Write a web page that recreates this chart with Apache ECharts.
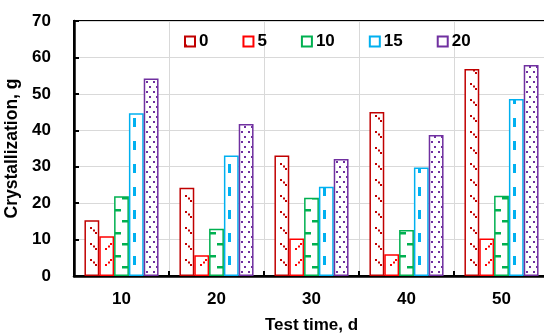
<!DOCTYPE html>
<html><head><meta charset="utf-8">
<script src="https://cdn.jsdelivr.net/npm/echarts@6/dist/echarts.min.js"></script>
<style>html,body{margin:0;padding:0;background:#fff}#c{width:544px;height:334px}</style>
</head><body><div id="c"></div>
<script>
var categories = ['10', '20', '30', '40', '50'];
var seriesNames = ['0', '5', '10', '15', '20'];
var s0 = [15.3, 24.2, 33.1, 45.0, 56.8];
var s5 = [10.9, 5.7, 10.3, 6.0, 10.3];
var s10 = [21.9, 13.0, 21.5, 12.6, 22.0];
var s15 = [44.7, 33.1, 24.5, 29.8, 48.6];
var s20 = [54.2, 41.7, 32.1, 38.7, 57.9];
var yTicks = [0, 10, 20, 30, 40, 50, 60, 70];

// layout constants (style only)
var GL = 74, GR = -5, GT = 21, GB = 58, W = 544;
var CAT = (W - GL - GR) / categories.length;
var GAP = 0.22;
var BW = CAT * (1 - GAP) / seriesNames.length;

function tile(seriesIdx, h, draw) {
  var w = Math.round(CAT);
  var c = document.createElement('canvas');
  c.width = w; c.height = h;
  var g = c.getContext('2d');
  g.fillStyle = '#fff'; g.fillRect(0, 0, w, h);
  var left = (GL + CAT * GAP / 2 + seriesIdx * BW) % w;
  draw(g, function (x, y, ww, hh) {
    var xx = Math.round(left + x) % w;
    g.fillRect(xx, y, ww, hh);
  });
  return { image: c, repeat: 'repeat' };
}
var colors = ['#c00000', '#ff0000', '#00b050', '#00b0f0', '#7030a0'];
var patterns = [
  tile(0, 16, function (g, r) { g.fillStyle = colors[0];
    r(6, 3, 2, 2); r(8.5, 5.5, 2, 2); r(11, 8, 2, 2); }),
  tile(1, 16, function (g, r) { g.fillStyle = colors[1];
    r(11, 3, 2, 2); r(8.5, 5.5, 2, 2); r(6, 8, 2, 2); }),
  tile(2, 23, function (g, r) { g.fillStyle = colors[2];
    r(1, 2, 6, 2.5); r(8, 13, 6, 2.5); }),
  tile(3, 23, function (g, r) { g.fillStyle = colors[3];
    r(4, 3, 3, 9); }),
  tile(4, 10, function (g, r) { g.fillStyle = colors[4];
    r(2, 1, 2, 2); r(9, 1, 2, 2); r(5.5, 6, 2, 2); r(12, 6, 2, 2); })
];
var data = [s0, s5, s10, s15, s20];
var FONT = 'Liberation Sans';

var chart = echarts.init(document.getElementById('c'));
chart.setOption({
  animation: false,
  backgroundColor: '#fff',
  textStyle: { fontFamily: FONT },
  grid: { left: GL, right: GR, top: GT, bottom: GB, outerBoundsMode: 'none', containLabel: false,
    show: true, borderColor: '#000', borderWidth: 2, backgroundColor: 'transparent' },
  legend: {
    left: 184, top: 33, padding: 0, itemWidth: 10, itemHeight: 10, itemGap: 34, icon: 'rect',
    textStyle: { fontFamily: FONT, fontWeight: 'bold', fontSize: 17, color: '#000', padding: [0, 0, 0, -1] },
    data: seriesNames
  },
  xAxis: {
    type: 'category', data: categories,
    name: 'Test time, d', nameLocation: 'middle', nameGap: 41,
    nameTextStyle: { fontFamily: FONT, fontWeight: 'bold', fontSize: 17, color: '#000' },
    axisLine: { lineStyle: { color: '#000', width: 2.5 } },
    axisTick: { show: true, inside: true, length: 5, lineStyle: { color: '#000', width: 2 } },
    axisLabel: { fontFamily: FONT, fontWeight: 'bold', fontSize: 17, color: '#000', margin: 15 },
    splitLine: { show: true, lineStyle: { color: '#d9d9d9', width: 1 } }
  },
  yAxis: {
    type: 'value', min: yTicks[0], max: yTicks[yTicks.length - 1], interval: yTicks[1] - yTicks[0],
    name: 'Crystallization, g', nameLocation: 'middle', nameGap: 39,
    nameTextStyle: { fontFamily: FONT, fontWeight: 'bold', fontSize: 17.5, color: '#000' },
    axisLine: { show: true, lineStyle: { color: '#000', width: 2.5 } },
    axisTick: { show: true, inside: true, length: 5, lineStyle: { color: '#000', width: 2 } },
    axisLabel: { fontFamily: FONT, fontWeight: 'bold', fontSize: 17, color: '#000', margin: 23 },
    splitLine: { show: true, lineStyle: { color: '#d9d9d9', width: 1 } }
  },
  series: seriesNames.map(function (n, i) {
    return {
      name: n, type: 'bar', data: data[i], barGap: '0%', barCategoryGap: (GAP * 100) + '%',
      itemStyle: { color: patterns[i], borderColor: colors[i], borderWidth: 1.5 }
    };
  })
});
</script></body></html>
